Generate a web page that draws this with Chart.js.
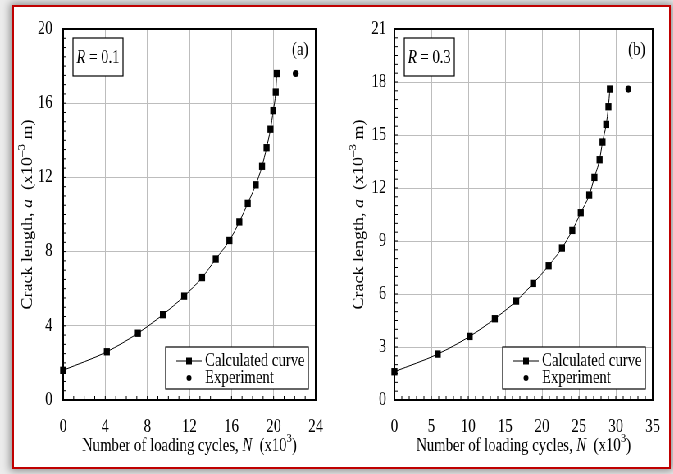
<!DOCTYPE html>
<html>
<head>
<meta charset="utf-8">
<script src="https://cdn.jsdelivr.net/npm/chart.js@4.4.0/dist/chart.umd.min.js"></script>
<style>
  html, body { margin: 0; padding: 0; width: 673px; height: 474px; overflow: hidden; background: #ececec; }
  #frame {
    position: absolute; left: 12px; top: 5px; width: 659px; height: 464px;
    box-sizing: border-box; border: 2px solid #c00000; background: #fff;
    box-shadow: 0 0 8px 2px rgba(0, 0, 0, 0.4);
  }
  /* the figure is squeezed horizontally, like the source image */
  #wrap { position: absolute; left: 0; top: 0; width: 821px; height: 474px; transform: scaleX(0.82); transform-origin: 0 0; }
  #wrap canvas { position: absolute; top: 0; }
</style>
</head>
<body>
<div id="frame"></div>
<div id="wrap">
  <canvas id="chartA" width="410" height="474" style="left:0;width:410px;height:474px"></canvas>
  <canvas id="chartB" width="411" height="474" style="left:410px;width:411px;height:474px"></canvas>
</div>
<script>
/* ================= DATA ================= */
const crackLength = [1.6, 2.6, 3.6, 4.6, 5.6, 6.6, 7.6, 8.6, 9.6, 10.6, 11.6, 12.6, 13.6, 14.6, 15.6, 16.6, 17.6];

// (a) R = 0.1
const cyclesA = [0, 4.15, 7.1, 9.48, 11.5, 13.2, 14.5, 15.8, 16.74, 17.54, 18.3, 18.9, 19.33, 19.7, 19.97, 20.2, 20.3];
const expCyclesA = [22.1];
const expLengthA = [17.6];

// (b) R = 0.3
const cyclesB = [0, 5.87, 10.2, 13.6, 16.5, 18.8, 20.9, 22.7, 24.1, 25.25, 26.4, 27.1, 27.8, 28.2, 28.7, 29.0, 29.2];
const expCyclesB = [31.7];
const expLengthB = [17.6];

const seriesNames = ["Calculated curve", "Experiment"];

/* ================= TEXT HELPERS ================= */
const FONT = '"Liberation Serif", "Times New Roman", serif';
const SIZE = 18;

function fontOf(p) {
  return (p.italic ? "italic " : "") + (p.size || SIZE) + "px " + FONT;
}

function drawRich(ctx, parts, x, y) {
  let w = 0;
  parts.forEach((p) => { ctx.font = fontOf(p); w += ctx.measureText(p.t).width; });
  let cx = x - w / 2;
  ctx.textAlign = "left";
  ctx.textBaseline = "middle";
  parts.forEach((p) => {
    ctx.font = fontOf(p);
    ctx.fillText(p.t, cx, y + (p.dy || 0));
    cx += ctx.measureText(p.t).width;
  });
}

const xTitle = [
  { t: "Number of loading cycles, " },
  { t: "N", italic: true },
  { t: "  (x10" },
  { t: "3", size: 13, dy: -7 },
  { t: ")" },
];
const yTitle = [
  { t: "Crack length, " },
  { t: "a", italic: true },
  { t: "  (x10" },
  { t: "\u20133", size: 13, dy: -7 },
  { t: " m)" },
];

/* ================= PLUGIN: box, inward ticks, titles, legend ================= */
const decor = {
  id: "decor",
  beforeDatasetsDraw(chart, args, o) {
    const { ctx, chartArea: ca, scales: { x, y } } = chart;
    ctx.save();
    ctx.strokeStyle = "#000";
    ctx.lineWidth = 1;
    ctx.beginPath();
    for (let v = x.min; v <= x.max + 1e-9; v += o.xMinor) {
      const px = x.getPixelForValue(v);
      ctx.moveTo(px, ca.bottom);
      ctx.lineTo(px, ca.bottom - 4);
    }
    for (let v = y.min; v <= y.max + 1e-9; v += o.yMinor) {
      const py = y.getPixelForValue(v);
      ctx.moveTo(ca.left, py);
      ctx.lineTo(ca.left + 4, py);
    }
    ctx.stroke();
    ctx.lineWidth = 2;
    ctx.strokeRect(ca.left, ca.top, ca.right - ca.left, ca.bottom - ca.top);
    ctx.restore();
  },
  afterDraw(chart, args, o) {
    const { ctx, chartArea: ca } = chart;
    ctx.save();
    ctx.fillStyle = "#000";
    ctx.strokeStyle = "#000";

    // axis titles
    drawRich(ctx, xTitle, (ca.left + ca.right) / 2, 446);
    ctx.save();
    ctx.translate(ca.left - 43, (ca.top + ca.bottom) / 2);
    ctx.rotate(-Math.PI / 2);
    drawRich(ctx, yTitle, 0, 0);
    ctx.restore();

    // R box
    const rx = ca.left + 12, ry = ca.top + 9, rw = 61, rh = 38;
    ctx.fillStyle = "#fff";
    ctx.fillRect(rx, ry, rw, rh);
    ctx.lineWidth = 1.2;
    ctx.strokeRect(rx, ry, rw, rh);
    ctx.fillStyle = "#000";
    drawRich(ctx, [{ t: "R", italic: true }, { t: " = " + o.r }], rx + rw / 2, ry + rh / 2 + 1);

    // panel tag
    ctx.font = SIZE + "px " + FONT;
    ctx.textAlign = "right";
    ctx.textBaseline = "middle";
    ctx.fillText(o.tag, ca.right - 9, ca.top + 21);

    // legend
    const lw = 174, lh = 42;
    const lx = ca.right - 9 - lw, ly = ca.bottom - 11 - lh;
    ctx.fillStyle = "#fff";
    ctx.fillRect(lx, ly, lw, lh);
    ctx.lineWidth = 1.2;
    ctx.strokeRect(lx, ly, lw, lh);
    ctx.fillStyle = "#000";
    const r1 = ly + 14, r2 = ly + 31;
    ctx.lineWidth = 1;
    ctx.beginPath();
    ctx.moveTo(lx + 13, r1);
    ctx.lineTo(lx + 44, r1);
    ctx.stroke();
    ctx.fillRect(lx + 28.5 - 3.5, r1 - 3.5, 7, 7);
    ctx.beginPath();
    ctx.arc(lx + 28.5, r2, 3, 0, Math.PI * 2);
    ctx.fill();
    ctx.font = SIZE + "px " + FONT;
    ctx.textAlign = "left";
    ctx.fillText(seriesNames[0], lx + 48, r1);
    ctx.fillText(seriesNames[1], lx + 48, r2);
    ctx.restore();
  },
};

/* ================= CHART BUILDER ================= */
function toPoints(xs, ys) {
  return xs.map((v, i) => ({ x: v, y: ys[i] }));
}

function createPanel(canvasId, cfg) {
  const ctx = document.getElementById(canvasId).getContext("2d");
  return new Chart(ctx, {
    type: "scatter",
    data: {
      datasets: [
        {
          label: seriesNames[0],
          data: toPoints(cfg.cycles, crackLength),
          showLine: true,
          borderColor: "#000",
          borderWidth: 1,
          backgroundColor: "#000",
          pointStyle: "rect",
          pointRadius: 5.2,
          pointBorderWidth: 0,
          cubicInterpolationMode: "monotone",
          clip: false,
        },
        {
          label: seriesNames[1],
          data: toPoints(cfg.expCycles, cfg.expLength),
          backgroundColor: "#000",
          borderColor: "#000",
          pointStyle: "circle",
          pointRadius: 3.6,
          pointBorderWidth: 0,
          clip: false,
        },
      ],
    },
    options: {
      responsive: false,
      animation: false,
      devicePixelRatio: 1,
      layout: { padding: { left: 0, right: cfg.padRight, top: 29, bottom: 0 } },
      plugins: {
        legend: { display: false },
        tooltip: { enabled: false },
        decor: { r: cfg.r, tag: cfg.tag, xMinor: 1, yMinor: 0.5 },
      },
      scales: {
        x: {
          type: "linear",
          min: 0,
          max: cfg.xMax,
          afterFit: (s) => { s.height = 74; },
          ticks: { stepSize: cfg.xStep, color: "#000", padding: 16, font: { family: FONT, size: SIZE } },
          grid: { color: "#bdbdbd", lineWidth: 1, drawTicks: false },
          border: { display: false },
        },
        y: {
          type: "linear",
          min: 0,
          max: cfg.yMax,
          afterFit: (s) => { s.width = cfg.yWidth; },
          ticks: { stepSize: cfg.yStep, color: "#000", padding: cfg.yPad, font: { family: FONT, size: SIZE } },
          grid: { color: "#bdbdbd", lineWidth: 1, drawTicks: false },
          border: { display: false },
        },
      },
    },
    plugins: [decor],
  });
}

createPanel("chartA", {
  cycles: cyclesA, expCycles: expCyclesA, expLength: expLengthA,
  xMax: 24, xStep: 4, yMax: 20, yStep: 4,
  yWidth: 77, yPad: 13, padRight: 16, r: "0.1", tag: "(a)",
});

createPanel("chartB", {
  cycles: cyclesB, expCycles: expCyclesB, expLength: expLengthB,
  xMax: 35, xStep: 5, yMax: 21, yStep: 3,
  yWidth: 71, yPad: 10, padRight: 25, r: "0.3", tag: "(b)",
});
</script>
</body>
</html>
